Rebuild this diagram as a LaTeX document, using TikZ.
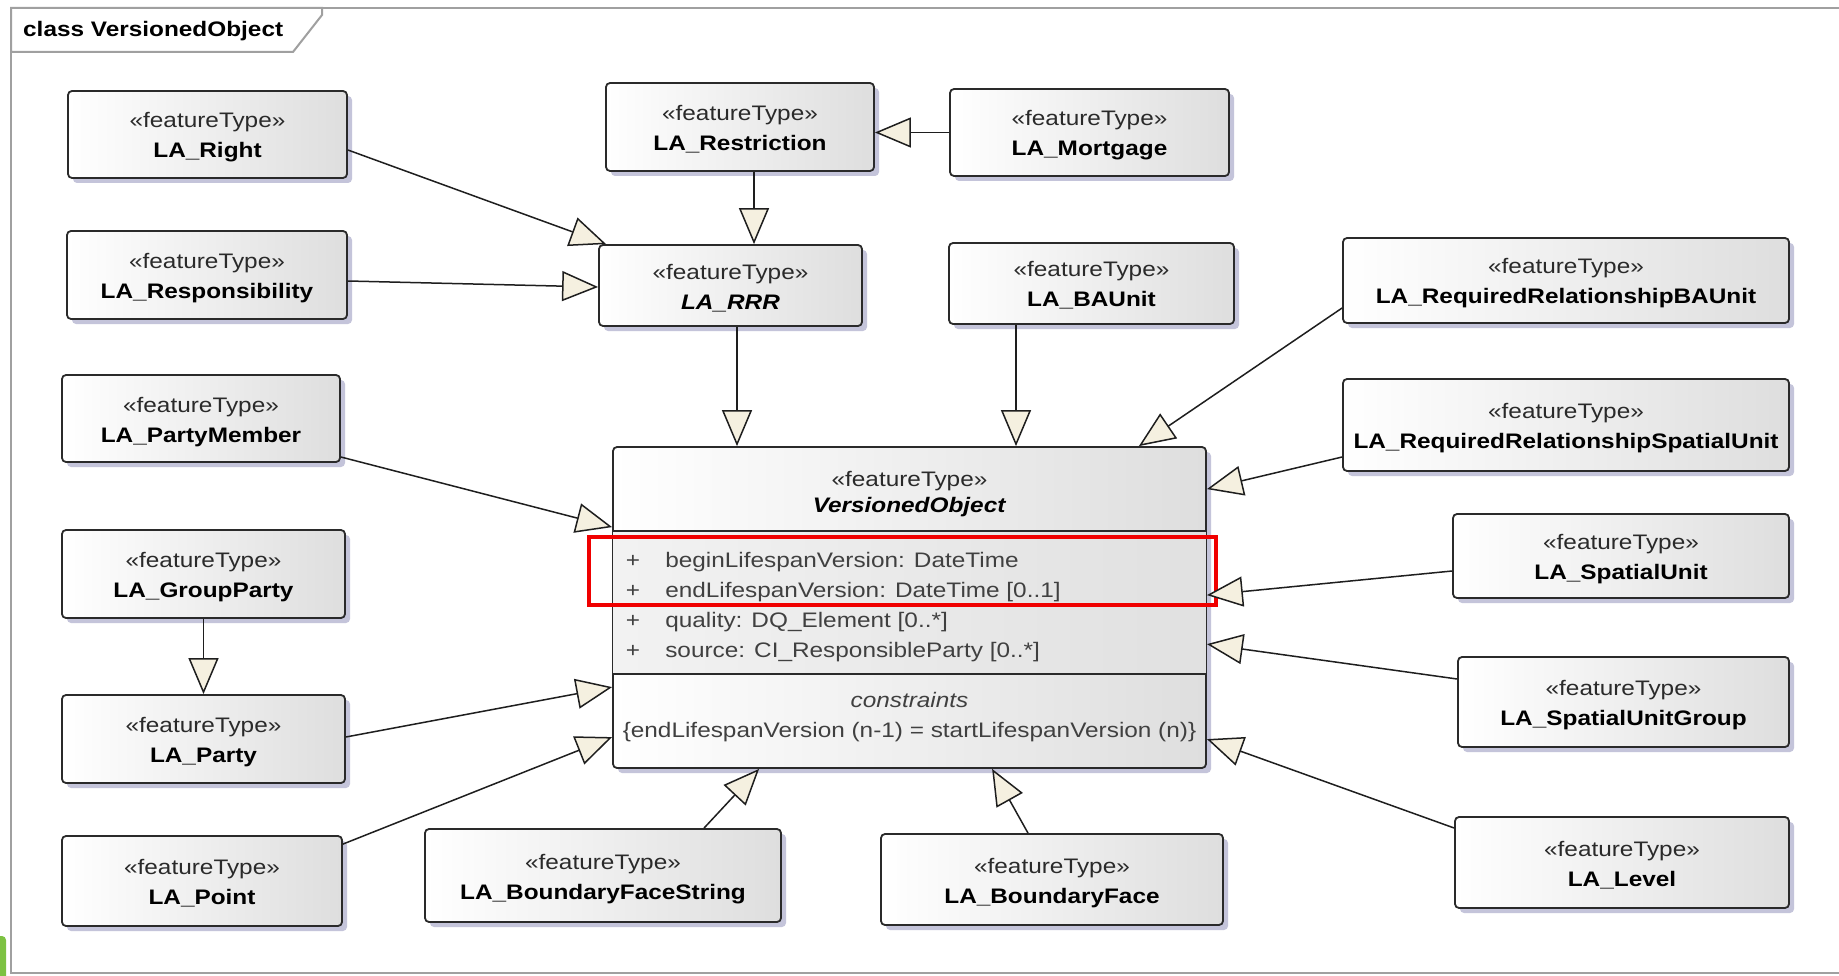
\documentclass[tikz,border=0pt]{standalone}
\usepackage{fontspec}
\setmainfont{Liberation Sans}[FakeStretch=1.16]
\usetikzlibrary{arrows.meta,shadows,calc}

\definecolor{framegray}{HTML}{A0A0A0}
\definecolor{boxline}{HTML}{2A2A2A}
\definecolor{boxgray}{HTML}{DEDEDE}
\definecolor{shadowblue}{HTML}{C4C4DA}
\definecolor{tipfill}{HTML}{F5F0E0}
\definecolor{linegray}{HTML}{1E1E1E}
\definecolor{stereogray}{HTML}{2A2A2A}
\definecolor{attrtext}{HTML}{404040}
\definecolor{markred}{HTML}{F00000}
\definecolor{leafgreen}{HTML}{7DC242}

% two-line class label: stereotype above, bold class name below
\newcommand{\ftlabel}[1]{\smash{\textcolor{stereogray}{«featureType»}}\rule{0pt}{17pt}\\\smash{\textbf{#1}}}

\begin{document}
\begin{tikzpicture}[x=1pt,y=-1pt,
  ftbox/.style={draw=boxline, line width=1.8pt, rounded corners=4pt,
    left color=white, right color=boxgray, align=center, inner sep=0pt,
    font=\fontsize{21}{30}\selectfont,
    drop shadow={shadow xshift=5pt, shadow yshift=-5pt, fill=shadowblue, opacity=1, draw=none}},
  gen/.style={draw=linegray, line width=1.5pt, line join=miter,
    -{Triangle[length=36pt, width=30pt, fill=tipfill]}},
  txt/.style={inner sep=0pt, font=\fontsize{21}{30}\selectfont},
  sep/.style={draw=boxline, line width=1.8pt},
]
\useasboundingbox (0,0) rectangle (1839,976);
\fill[white] (0,0) rectangle (1839,976);

% diagram frame with its name tab
\draw[framegray, line width=2.5pt] (1845,8) -- (11,8) -- (11,973) -- (1845,973);
\draw[framegray, line width=2pt, fill=white] (11,8) -- (322,8) -- (322,15) -- (293,52) -- (11,52) -- cycle;
\node[anchor=base west, inner sep=0pt, font=\fontsize{21}{24}\selectfont\bfseries] (title) at (23,37) {class VersionedObject};

% corner mark at lower left
\fill[leafgreen, rounded corners=4pt] (-12,936) rectangle (6,990);

% feature types
\node[ftbox, minimum width=279pt, minimum height=87pt] (right) at (207.5,134.5) {\ftlabel{LA\_Right}};
\node[ftbox, minimum width=268pt, minimum height=88pt] (restr) at (740,127) {\ftlabel{LA\_Restriction}};
\node[ftbox, minimum width=279pt, minimum height=87pt] (mort) at (1089.5,132.5) {\ftlabel{LA\_Mortgage}};
\node[ftbox, minimum width=280pt, minimum height=88pt] (resp) at (207,275) {\ftlabel{LA\_Responsibility}};
\node[ftbox, minimum width=263pt, minimum height=81pt] (rrr) at (730.5,285.5) {\ftlabel{\textit{LA\_RRR}}};
\node[ftbox, minimum width=285pt, minimum height=81pt] (bau) at (1091.5,283.5) {\ftlabel{LA\_BAUnit}};
\node[ftbox, minimum width=446pt, minimum height=85pt] (rrbau) at (1566,280.5) {\ftlabel{LA\_RequiredRelationshipBAUnit}};
\node[ftbox, minimum width=446pt, minimum height=92pt] (rrsu) at (1566,425) {\ftlabel{LA\_RequiredRelationshipSpatialUnit}};
\node[ftbox, minimum width=278pt, minimum height=87pt] (pm) at (201,418.5) {\ftlabel{LA\_PartyMember}};
\node[ftbox, minimum width=283pt, minimum height=88pt] (gp) at (203.5,574) {\ftlabel{LA\_GroupParty}};
\node[ftbox, minimum width=336pt, minimum height=84pt] (su) at (1621,556) {\ftlabel{LA\_SpatialUnit}};
\node[ftbox, minimum width=283pt, minimum height=88pt] (party) at (203.5,739) {\ftlabel{LA\_Party}};
\node[ftbox, minimum width=331pt, minimum height=90pt] (sug) at (1623.5,702) {\ftlabel{LA\_SpatialUnitGroup}};
\node[ftbox, minimum width=280pt, minimum height=90pt] (point) at (202,881) {\ftlabel{LA\_Point}};
\node[ftbox, minimum width=356pt, minimum height=93pt] (bfs) at (603,875.5) {\ftlabel{LA\_BoundaryFaceString}};
\node[ftbox, minimum width=342pt, minimum height=91pt] (bf) at (1052,879.5) {\ftlabel{LA\_BoundaryFace}};
\node[ftbox, minimum width=334pt, minimum height=91pt] (level) at (1622,862.5) {\ftlabel{LA\_Level}};

% the central class with its compartments
\node[ftbox, minimum width=593pt, minimum height=321pt] (vo) at (909.5,607.5) {};
\fill[left color=black!5, right color=black!12] ($(vo.north west)+(1,85)$) rectangle ($(vo.north east)+(-1,228)$);
\draw[sep] ($(vo.north west)+(0,85)$) -- ($(vo.north east)+(0,85)$);
\draw[sep] ($(vo.north west)+(0,228)$) -- ($(vo.north east)+(0,228)$);
\node[txt, anchor=base] (vo-st) at ($(vo.north)+(0,40)$) {\textcolor{stereogray}{«featureType»}};
\node[txt, anchor=base] (vo-name) at ($(vo.north)+(0,66)$) {\textbf{\textit{VersionedObject}}};
\node[txt, anchor=base, text=attrtext] (plus1) at ($(vo.north west)+(21,121)$) {+};
\node[txt, anchor=base, text=attrtext] (plus2) at ($(vo.north west)+(21,151)$) {+};
\node[txt, anchor=base, text=attrtext] (plus3) at ($(vo.north west)+(21,181)$) {+};
\node[txt, anchor=base, text=attrtext] (plus4) at ($(vo.north west)+(21,211)$) {+};
\node[txt, anchor=base west, text=attrtext] (attr1) at ($(vo.north west)+(53,121)$) {beginLifespanVersion: DateTime};
\node[txt, anchor=base west, text=attrtext] (attr2) at ($(vo.north west)+(53,151)$) {endLifespanVersion: DateTime [0..1]};
\node[txt, anchor=base west, text=attrtext] (attr3) at ($(vo.north west)+(53,181)$) {quality: DQ\_Element [0..*]};
\node[txt, anchor=base west, text=attrtext] (attr4) at ($(vo.north west)+(53,211)$) {source: CI\_ResponsibleParty [0..*]};
\node[txt, anchor=base, text=attrtext] (cons) at ($(vo.north)+(0,261)$) {\textit{constraints}};
\node[txt, anchor=base, text=attrtext] (cons-rule) at ($(vo.north)+(0,291)$) {\{endLifespanVersion (n-1) = startLifespanVersion (n)\}};

% highlight around the lifespan attributes
\draw[markred, line width=4pt] (589,537) rectangle (1216,605);

% generalisations
\draw[gen] ($(right.east)+(0,15.5)$) -- ($(rrr.north west)+(8,0)$);
\draw[gen] ($(resp.east)+(0,6)$) -- ($(rrr.west)+(0,1.5)$);
\draw[gen] (mort.west) -- (mort.west -| restr.east);
\coordinate (restr-out) at ($(restr.south)+(14,0)$);
\draw[gen] (restr-out) -- (restr-out |- rrr.north);
\coordinate (rrr-out) at ($(rrr.south)+(6.5,0)$);
\draw[gen] (rrr-out) -- (rrr-out |- vo.north);
\coordinate (bau-out) at ($(bau.south)+(-75.5,0)$);
\draw[gen] (bau-out) -- (bau-out |- vo.north);
\draw[gen] ($(rrbau.west)+(0,27.5)$) -- ($(vo.north east)+(-68,0)$);
\draw[gen] ($(rrsu.west)+(0,32)$) -- ($(vo.north east)+(0,43)$);
\draw[gen] ($(su.west)+(0,15)$) -- ($(vo.north east)+(0,149)$);
\draw[gen] ($(sug.west)+(0,-23)$) -- ($(vo.north east)+(0,198)$);
\draw[gen] ($(level.west)+(0,-34.5)$) -- ($(vo.north east)+(0,293)$);
\draw[gen] ($(pm.east)+(0,38.5)$) -- ($(vo.north west)+(0,81)$);
\draw[gen] (gp.south) -- (party.north);
\draw[gen] ($(party.east)+(0,-2)$) -- ($(vo.north west)+(0,241)$);
\draw[gen] ($(point.north east)+(0,9)$) -- ($(vo.north west)+(0,291)$);
\draw[gen] ($(bfs.north)+(101,0)$) -- ($(vo.south west)+(147,0)$);
\draw[gen] ($(bf.north)+(-24,0)$) -- ($(vo.south west)+(380,0)$);
\end{tikzpicture}
\end{document}
